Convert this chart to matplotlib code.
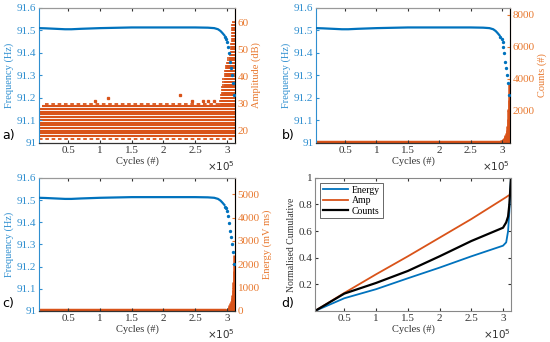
import numpy as np
import matplotlib
matplotlib.use("Agg")
import matplotlib.pyplot as plt
from matplotlib.ticker import FixedLocator, FixedFormatter

plt.rcParams['font.family'] = ['Liberation Serif', 'DejaVu Serif']
plt.rcParams['font.size'] = 8
plt.rcParams['axes.labelsize'] = 7.5

BLUE = '#0072BD'
ORANGE = '#D95319'
BLUE_TXT = '#2F8FD0'
ORANGE_TXT = '#E8782E'

# ---- data ----
x_min, x_max = 4000, 312500

# resonance frequency (dense part, drawn as a line)
freq_cycles = [4000, 15000, 30000, 45000, 55000, 70000, 100000, 150000, 200000,
               250000, 270000, 280000, 286000, 290000, 293000, 296000]
freq_hz = [91.510, 91.509, 91.507, 91.505, 91.505, 91.507, 91.510, 91.513, 91.513,
           91.513, 91.512, 91.510, 91.505, 91.497, 91.488, 91.478]
# resonance frequency near failure (sparse dots)
freq_drop_cycles = [297500, 299200, 300800, 301800, 303400, 304500, 306100,
                    307700, 309800, 310900]
freq_drop_hz = [91.470, 91.462, 91.450, 91.428, 91.398, 91.361, 91.332,
                91.302, 91.265, 91.212]

# amplitude: integer dB levels continuously hit over the test
amp_levels = [18, 19, 20, 21, 22, 23, 24, 25, 26, 27, 28, 29]
amp_level_start = [4000, 4000, 4000, 4000, 4000, 4000, 4000, 4000, 4000, 4000, 4000, 9000]
amp_sparse_levels = [17, 30]
amp_sparse_start = [4000, 14000]
# sporadic higher hits
amp_odd_cycles = [92000, 112000, 226000, 245000, 262000, 270000, 280000]
amp_odd_db = [31, 32, 33, 31, 31, 31, 31]
# hits near failure: column cycle and max amplitude in that column
amp_end_cycles = [290000, 292000, 294000, 296000, 298000, 300000, 302000, 304000,
                  306000, 308000, 310000, 311500]
amp_end_max = [31, 33, 36, 39, 42, 44, 45, 47, 48, 52, 59, 60]

# counts and energy: near-zero baseline plus bursts near failure
base_cycles = [4000, 100000, 200000, 295000]
base_counts = [60, 60, 60, 60]
base_energy = [30, 30, 30, 30]
end_cycles = [295000, 297000, 299000, 301000, 302500, 304000, 305500, 306500,
              307500, 308500, 309500, 310300, 311000, 311700, 312300]
end_counts = [120, 150, 200, 260, 330, 420, 520, 650, 800, 1050, 1500, 2100,
              2700, 3700, 3100]
end_energy = [40, 60, 90, 130, 180, 240, 320, 420, 560, 700, 900, 1250,
              1700, 2400, 2000]

# normalised cumulative
cum_cycles = [4000, 50000, 100000, 150000, 200000, 250000, 300000, 305000,
              308000, 310000, 311500, 312500]
cum_energy = [0.0, 0.095, 0.163, 0.245, 0.325, 0.41, 0.49, 0.515, 0.60, 0.75, 0.90, 1.0]
cum_amp = [0.0, 0.135, 0.275, 0.41, 0.55, 0.69, 0.84, 0.855, 0.865, 0.870, 0.875, 0.875]
cum_counts = [0.0, 0.13, 0.21, 0.30, 0.41, 0.525, 0.625, 0.665, 0.71, 0.80, 0.92, 1.0]

xt = [50000, 100000, 150000, 200000, 250000, 300000]
xtl = ['0.5', '1', '1.5', '2', '2.5', '3']

fig = plt.figure(figsize=(5.5, 3.42), dpi=100)


def style_x(ax):
    ax.set_xlim(x_min, x_max)
    ax.xaxis.set_major_locator(FixedLocator(xt))
    ax.xaxis.set_major_formatter(FixedFormatter(xtl))
    ax.set_xlabel('Cycles (#)', labelpad=1, color='#333333')
    ax.tick_params(axis='x', direction='in', length=2.5, top=True, pad=2,
                   colors='#333333')
    ax.text(1.0, -0.12, r'$\times10^5$', transform=ax.transAxes, ha='right',
            va='top', fontsize=7.5, color='#333333', family='DejaVu Sans')


def freq_axes(rect, letter, lx):
    ax = fig.add_axes(rect)
    ax.plot(freq_cycles, freq_hz, color=BLUE, lw=1.6, zorder=3)
    ax.plot(freq_drop_cycles, freq_drop_hz, ls='none', marker='o', ms=1.4,
            color=BLUE, zorder=3)
    ax.set_ylim(91.0, 91.6)
    ax.set_yticks([91.0, 91.1, 91.2, 91.3, 91.4, 91.5, 91.6])
    ax.set_yticklabels(['91', '91.1', '91.2', '91.3', '91.4', '91.5', '91.6'])
    ax.tick_params(axis='y', direction='in', length=2.5, colors=BLUE_TXT, pad=2)
    ax.set_ylabel('Frequency (Hz)', color=BLUE_TXT, labelpad=2)
    ax.spines['left'].set_color(BLUE_TXT)
    ax.spines['top'].set_color('#999999')
    ax.spines['bottom'].set_color('#333333')
    style_x(ax)
    ax.set_zorder(2)
    ax.patch.set_visible(False)
    ax2 = ax.twinx()
    ax2.set_zorder(1)
    ax2.spines['right'].set_color(ORANGE_TXT)
    ax2.spines['left'].set_visible(False)
    ax2.spines['top'].set_color('#999999')
    ax2.tick_params(axis='y', direction='in', length=2.5, colors=ORANGE_TXT, pad=2)
    fig.text(lx, rect[1] + 0.002, letter, fontsize=9, family='DejaVu Sans',
             va='bottom')
    return ax, ax2


# a) amplitude
ax, ax2 = freq_axes([0.071, 0.582, 0.356, 0.395], 'a)', 0.004)
ax2.hlines(amp_levels, amp_level_start, x_max, color=ORANGE, lw=1.5)
ax2.hlines(amp_sparse_levels, amp_sparse_start, x_max, color=ORANGE, lw=1.3,
           linestyles=(0, (2, 1.5)))
ax2.plot(amp_odd_cycles, amp_odd_db, ls='none', marker='s', ms=1.4, color=ORANGE)
for c, m in zip(amp_end_cycles, amp_end_max):
    lv = np.arange(30, m + 1)
    ax2.plot(np.full(len(lv), c), lv, ls='none', marker='_', ms=3, mew=1.2,
             color=ORANGE)
ax2.set_ylim(15.5, 65.3)
ax2.set_yticks([20, 30, 40, 50, 60])
ax2.set_ylabel('Amplitude (dB)', color=ORANGE_TXT, labelpad=2)

# b) counts
ax, ax2 = freq_axes([0.575, 0.582, 0.352, 0.395], 'b)', 0.512)
ax2.plot(base_cycles, base_counts, color=ORANGE, lw=2.5)
ax2.vlines(end_cycles, 0, end_counts, color=ORANGE, lw=1.8)
ax2.fill_between(end_cycles, 0, end_counts, color=ORANGE, lw=0)
ax2.set_ylim(0, 8440)
ax2.set_yticks([2000, 4000, 6000, 8000])
ax2.set_ylabel('Counts (#)', color=ORANGE_TXT, labelpad=2)

# c) energy
ax, ax2 = freq_axes([0.071, 0.091, 0.356, 0.389], 'c)', 0.004)
ax2.plot(base_cycles, base_energy, color=ORANGE, lw=2.5)
ax2.vlines(end_cycles, 0, end_energy, color=ORANGE, lw=1.8)
ax2.fill_between(end_cycles, 0, end_energy, color=ORANGE, lw=0)
ax2.set_ylim(0, 5700)
ax2.set_yticks([0, 1000, 2000, 3000, 4000, 5000])
ax2.set_ylabel('Energy (mV ms)', color=ORANGE_TXT, labelpad=2)

# d) cumulative
ax = fig.add_axes([0.573, 0.091, 0.356, 0.389])
ax.plot(cum_cycles, cum_energy, color=BLUE, lw=1.3, label='Energy')
ax.plot(cum_cycles, cum_amp, color=ORANGE, lw=1.3, label='Amp')
ax.plot(cum_cycles, cum_counts, color='black', lw=1.6, label='Counts')
ax.set_ylim(0, 1)
ax.set_yticks([0.2, 0.4, 0.6, 0.8, 1.0])
ax.set_yticklabels(['0.2', '0.4', '0.6', '0.8', '1'])
ax.tick_params(axis='y', direction='in', length=2.5, right=True, pad=2,
               colors='#333333')
ax.set_ylabel('Normalised Cumulative', color='#333333', labelpad=2, fontsize=7)
for s in ax.spines.values():
    s.set_color('#888888')
style_x(ax)
leg = ax.legend(loc='upper left', fontsize=7, frameon=True, fancybox=False,
                handlelength=2.6, borderpad=0.3, labelspacing=0.15,
                handletextpad=0.4, borderaxespad=0.5)
leg.get_frame().set_edgecolor('#222222')
leg.get_frame().set_linewidth(0.6)
fig.text(0.512, 0.091 + 0.002, 'd)', fontsize=9, family='DejaVu Sans', va='bottom')

fig.savefig('out.png', dpi=100)
